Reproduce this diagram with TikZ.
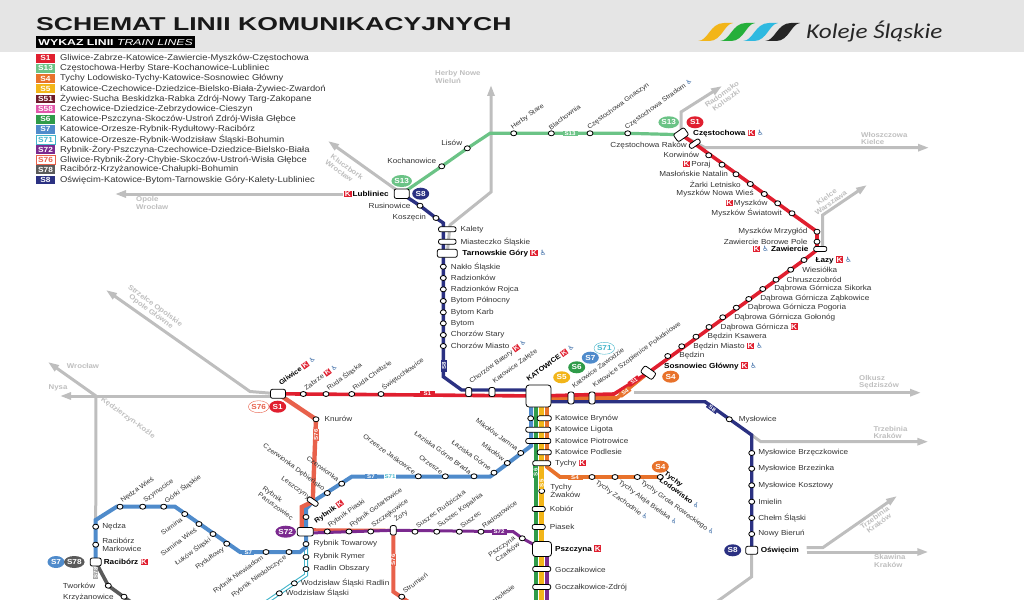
\documentclass[tikz,border=0pt]{standalone}
\usepackage{fontspec}
\usepackage{xcolor}
\setmainfont[FakeStretch=1.12]{Liberation Sans}
\newfontfamily\titlefont[FakeStretch=1.43]{Liberation Sans}
\newfontfamily\logofont[FakeStretch=1.2]{Carlito}
\newfontfamily\symfont{DejaVu Sans}
\usetikzlibrary{arrows.meta, positioning, shapes.geometric}

\definecolor{cS1}{HTML}{E01F2F}
\definecolor{cS13}{HTML}{6BC386}
\definecolor{cS4}{HTML}{E8722B}
\definecolor{cS5}{HTML}{F2B519}
\definecolor{cS51}{HTML}{6E1A2B}
\definecolor{cS58}{HTML}{E257AC}
\definecolor{cS6}{HTML}{2F9B49}
\definecolor{cS7}{HTML}{4F8BCB}
\definecolor{cS71}{HTML}{45B6CB}
\definecolor{cS72}{HTML}{7B2A8F}
\definecolor{cS76}{HTML}{E8614B}
\definecolor{cS78}{HTML}{5A5A5A}
\definecolor{cS8}{HTML}{2B3182}
\definecolor{feedgray}{HTML}{BEBEBE}
\definecolor{wcblue}{HTML}{2F62A0}

\newcommand{\kk}{{\setlength{\fboxsep}{0.6pt}\colorbox{cS1}{\textcolor{white}{\bfseries K}}}}
\newcommand{\wc}{{\symfont\textcolor{wcblue}{\char"267F}}}
\newcommand{\leaf}{(0,41) .. controls (10,41) and (12,23) .. (26,23) -- (35,23) .. controls (26,24) and (24,41) .. (11,41) -- cycle}

\pgfdeclarelayer{bg}
\pgfsetlayers{bg,main}

\tikzstyle{stop}     = [ellipse, draw=black, fill=white, line width=.8pt, minimum width=6pt, minimum height=5pt, inner sep=0pt]
\tikzstyle{hub}      = [rectangle, rounded corners=2pt, draw=black, fill=white, line width=.8pt, inner sep=0pt]
\tikzstyle{lbl}      = [inner sep=0pt, text=black!80, font=\fontsize{7.3}{8.6}\selectfont, align=left]
\tikzstyle{main}     = [lbl, text=black, font=\fontsize{7.3}{8.6}\selectfont\bfseries]
\tikzstyle{rotlbl}   = [lbl, font=\fontsize{6.5}{7.8}\selectfont]
\tikzstyle{lup}      = [rotlbl, anchor=west, xshift=1.5pt, yshift=5pt, rotate=36]
\tikzstyle{lupb}     = [rotlbl, text=black, font=\fontsize{6.7}{7.8}\selectfont\bfseries, anchor=west, xshift=1.5pt, yshift=5pt, rotate=36]
\tikzstyle{lupe}     = [rotlbl, anchor=east, xshift=-3pt, yshift=-5pt, rotate=36]
\tikzstyle{ldn}      = [rotlbl, anchor=east, xshift=-3.3pt, yshift=3.6pt, rotate=-36]
\tikzstyle{lds}      = [rotlbl, anchor=west, xshift=4pt, yshift=-4.7pt, rotate=-36]
\tikzstyle{far}      = [lbl, text=feedgray, font=\fontsize{7}{7.2}\selectfont\bfseries]
\tikzstyle{badge}    = [ellipse, minimum width=17pt, minimum height=12pt, inner sep=0pt, text=white, font=\fontsize{7.3}{8}\selectfont\bfseries]
\tikzstyle{tag}      = [rectangle, minimum width=12pt, minimum height=5.5pt, inner sep=0pt, text=white, font=\fontsize{5.5}{5.5}\selectfont\bfseries]
\tikzstyle{swatch}   = [rectangle, minimum width=19.5pt, minimum height=8.6pt, inner sep=0pt, text=white, font=\fontsize{7.4}{7.4}\selectfont\bfseries]
\tikzstyle{lglbl}    = [inner sep=0pt, text=black!80, font=\fontsize{8.4}{9}\selectfont]
\tikzstyle{feeder}   = [line width=3pt, draw=feedgray]
\tikzstyle{feedarrow}= [feeder, -{Triangle[length=11pt,width=7pt]}]

\begin{document}
\begin{tikzpicture}[x=1pt,y=-1pt]
    \path[use as bounding box, clip] (0,0) rectangle (1024,599);

    % header
    \fill[black!10] (0,0) rectangle (1024,52);
    \node (title) [inner sep=0pt, anchor=west, text=black!90, font=\titlefont\fontsize{18.6}{20}\selectfont\bfseries] at (36,24) {SCHEMAT LINII KOMUNIKACYJNYCH};
    \node (wykaz) [fill=black, anchor=west, text=white, inner sep=0pt, minimum width=159pt, minimum height=12pt, font=\titlefont\fontsize{8.6}{9}\selectfont] at (36,42.5) {\textbf{WYKAZ LINII} \textit{TRAIN LINES}};
    \fill[cS5, shift={(698,0)}] \leaf;
    \fill[cS6!80!green, shift={(720,0)}] \leaf;
    \fill[cS7!60!cyan, shift={(743,0)}] \leaf;
    \fill[black!85, shift={(765,0)}] \leaf;
    \node (logo) [inner sep=0pt, anchor=west, text=black!85, font=\logofont\itshape\fontsize{21}{22}\selectfont] at (806,32) {Koleje Śląskie};

    % legend
    \node (sw1)  [swatch, fill=cS1]  at (45.5,58.3) {S1};
    \node (lg1)  [lglbl, right=4.5pt of sw1]  {Gliwice-Zabrze-Katowice-Zawiercie-Myszków-Częstochowa};
    \node (sw2)  [swatch, fill=cS13] at (45.5,68.4) {S13};
    \node (lg2)  [lglbl, right=4.5pt of sw2]  {Częstochowa-Herby Stare-Kochanowice-Lubliniec};
    \node (sw3)  [swatch, fill=cS4]  at (45.5,78.6) {S4};
    \node (lg3)  [lglbl, right=4.5pt of sw3]  {Tychy Lodowisko-Tychy-Katowice-Sosnowiec Główny};
    \node (sw4)  [swatch, fill=cS5]  at (45.5,88.7) {S5};
    \node (lg4)  [lglbl, right=4.5pt of sw4]  {Katowice-Czechowice-Dziedzice-Bielsko-Biała-Żywiec-Zwardoń};
    \node (sw5)  [swatch, fill=cS51] at (45.5,98.9) {S51};
    \node (lg5)  [lglbl, right=4.5pt of sw5]  {Żywiec-Sucha Beskidzka-Rabka Zdrój-Nowy Targ-Zakopane};
    \node (sw6)  [swatch, fill=cS58] at (45.5,109) {S58};
    \node (lg6)  [lglbl, right=4.5pt of sw6]  {Czechowice-Dziedzice-Zebrzydowice-Cieszyn};
    \node (sw7)  [swatch, fill=cS6]  at (45.5,119.2) {S6};
    \node (lg7)  [lglbl, right=4.5pt of sw7]  {Katowice-Pszczyna-Skoczów-Ustroń Zdrój-Wisła Głębce};
    \node (sw8)  [swatch, fill=cS7]  at (45.5,129.3) {S7};
    \node (lg8)  [lglbl, right=4.5pt of sw8]  {Katowice-Orzesze-Rybnik-Rydułtowy-Racibórz};
    \node (sw9)  [swatch, fill=white, draw=cS71, text=cS71] at (45.5,139.6) {S71};
    \node (lg9)  [lglbl, right=4.5pt of sw9]  {Katowice-Orzesze-Rybnik-Wodzisław Śląski-Bohumin};
    \node (sw10) [swatch, fill=cS72] at (45.5,149.7) {S72};
    \node (lg10) [lglbl, right=4.5pt of sw10] {Rybnik-Żory-Pszczyna-Czechowice-Dziedzice-Bielsko-Biała};
    \node (sw11) [swatch, fill=white, draw=cS76, text=cS76] at (45.5,159.5) {S76};
    \node (lg11) [lglbl, right=4.5pt of sw11] {Gliwice-Rybnik-Żory-Chybie-Skoczów-Ustroń-Wisła Głębce};
    \node (sw12) [swatch, fill=cS78] at (45.5,169.7) {S78};
    \node (lg12) [lglbl, right=4.5pt of sw12] {Racibórz-Krzyżanowice-Chałupki-Bohumin};
    \node (sw13) [swatch, fill=cS8]  at (45.5,180) {S8};
    \node (lg13) [lglbl, right=4.5pt of sw13] {Oświęcim-Katowice-Bytom-Tarnowskie Góry-Kalety-Lubliniec};

    % big stations
    \node (gliw)  [hub, minimum width=15pt, minimum height=9pt]  at (278,393.8) {};
    \node (kato)  [hub, rounded corners=3pt, minimum width=25pt, minimum height=22pt] at (538.5,396) {};
    \node (czest) [hub, minimum width=13pt, minimum height=9pt, rotate=35] at (681,134.7) {};
    \node (lubl)  [hub, minimum width=15pt, minimum height=9.5pt] at (401.7,193.7) {};
    \node (tarn)  [hub, minimum width=20pt, minimum height=8pt] at (447.3,253.3) {};
    \node (zaw)   [hub, minimum width=13pt, minimum height=5pt] at (820.3,249) {};
    \node (sosn)  [hub, minimum width=14pt, minimum height=8pt, rotate=-35] at (648.3,372.7) {};
    \node (ryb)   [hub, minimum width=16pt, minimum height=8.5pt] at (305.3,531.7) {};
    \node (racib) [hub, minimum width=11pt, minimum height=8pt] at (95.7,562) {};
    \node (pszcz) [hub, rounded corners=3pt, minimum width=19pt, minimum height=15pt] at (542,549) {};
    \node (oswie) [hub, minimum width=12pt, minimum height=8pt] at (751.7,550.3) {};

    % S1
    \node (zabrz) [stop] at (303.3,394) {};
    \node (ruda)  [stop] at (326,394) {};
    \node (chebz) [stop] at (351.7,394) {};
    \node (swiet) [stop] at (381,394) {};
    \node (bator) [hub, minimum width=6pt, minimum height=9pt] at (468.7,392) {};
    \node (zalez) [hub, minimum width=6pt, minimum height=9pt] at (492,392) {};
    \node (zawod) [hub, minimum width=6pt, minimum height=12pt] at (571,398) {};
    \node (szopi) [hub, minimum width=6pt, minimum height=12pt] at (592,398) {};
    \node (bedz)  [stop] at (667.7,356) {};
    \node (bedzm) [stop] at (681.7,346.3) {};
    \node (bedzk) [stop] at (696,336.7) {};
    \node (dg)    [stop] at (709,327) {};
    \node (dggol) [stop] at (722.7,317.3) {};
    \node (dgpog) [stop] at (736.3,307.7) {};
    \node (dgzab) [stop] at (748.7,299) {};
    \node (dgsik) [stop] at (762.7,289) {};
    \node (chrus) [stop] at (776,279.7) {};
    \node (wiesi) [stop] at (790.7,269.7) {};
    \node (lazy)  [stop] at (804,260) {};
    \node (borow) [stop] at (817,241.7) {};
    \node (mrzyg) [stop] at (817,231.7) {};
    \node (swiat) [stop] at (792,213.3) {};
    \node (myszk) [stop] at (777.7,203.3) {};
    \node (nowaw) [stop] at (764.3,194) {};
    \node (zarki) [stop] at (750.3,184) {};
    \node (masl)  [stop] at (736,174.3) {};
    \node (poraj) [stop] at (722,164.7) {};
    \node (korw)  [stop] at (708.7,155.3) {};
    \node (rakow) [hub, minimum width=12pt, minimum height=5pt, rotate=35] at (694.7,143.7) {};

    % S13
    \node (strad) [stop] at (627.7,133.3) {};
    \node (gnasz) [stop] at (590,133.3) {};
    \node (blach) [stop] at (551.3,133.3) {};
    \node (herby) [stop] at (513.7,133.3) {};
    \node (lisow) [stop] at (467.3,148.3) {};
    \node (kocha) [stop] at (441.7,166.3) {};

    % S8
    \node (rusin) [stop] at (420,205.7) {};
    \node (kosze) [stop] at (436,218) {};
    \node (kalet) [hub, minimum width=17.5pt, minimum height=5pt] at (447.3,229.3) {};
    \node (miast) [hub, minimum width=17.5pt, minimum height=5pt] at (447.3,241.7) {};
    \node (naklo) [stop] at (443.3,266.7) {};
    \node (radzi) [stop] at (443.3,278) {};
    \node (rojca) [stop] at (443.3,289.3) {};
    \node (bytop) [stop] at (443.3,301) {};
    \node (karb)  [stop] at (443.3,312.3) {};
    \node (bytom) [stop] at (443.3,323.3) {};
    \node (stary) [stop] at (443.3,335) {};
    \node (miasto)[stop] at (443.3,346) {};
    \node (myslo) [stop] at (729.3,419.3) {};
    \node (brzec) [stop] at (751.7,453) {};
    \node (brzez) [stop] at (751.7,468.7) {};
    \node (koszt) [stop] at (751.7,485.3) {};
    \node (imiel) [stop] at (751.7,501.7) {};
    \node (chelm) [stop] at (751.7,518) {};
    \node (bieru) [stop] at (751.7,534) {};

    % S7, S71, S78
    \node (nedza) [stop] at (95.7,526.7) {};
    \node (marko) [stop] at (95.7,544.7) {};
    \node (nedzw) [stop] at (120,506.7) {};
    \node (szymo) [stop] at (142.7,506.7) {};
    \node (gorki) [stop] at (163.7,506.7) {};
    \node (sumin) [stop] at (184.7,514) {};
    \node (sumiw) [stop] at (199,524) {};
    \node (lukow) [stop] at (213,534) {};
    \node (rydul) [stop] at (226.7,543.7) {};
    \node (niewi) [stop] at (266,552) {};
    \node (niedo) [stop] at (289,552) {};
    \node (towar) [stop] at (306,544) {};
    \node (rymer) [stop] at (306,557) {};
    \node (radli) [stop] at (306,569) {};
    \node (wodzr) [stop] at (294.3,583.3) {};
    \node (wodzi) [stop] at (279.3,593.3) {};
    \node (parus) [stop] at (306,517) {};
    \node (leszc) [hub, minimum width=12pt, minimum height=5pt, rotate=-35] at (312.7,501.7) {};
    \node (czede) [stop] at (327.3,493) {};
    \node (czerw) [stop] at (341.7,483.7) {};
    \node (orzja) [stop] at (418.3,476.3) {};
    \node (orzes) [stop] at (445.3,476.3) {};
    \node (lazbr) [stop] at (474,476.3) {};
    \node (lazgo) [stop] at (494,472.7) {};
    \node (mikol) [stop] at (507.3,463) {};
    \node (mikja) [stop] at (520.7,453) {};
    \node (tworw) [stop] at (108.3,585.7) {};
    \node (krzyz) [stop] at (124,596.7) {};

    % S76, S72
    \node (knuro) [stop] at (316,419.3) {};
    \node (piask) [stop] at (327.3,531.5) {};
    \node (gotar) [stop] at (349,531.5) {};
    \node (szcze) [stop] at (370.7,531.5) {};
    \node (zory)  [hub, minimum width=6pt, minimum height=9.5pt] at (393.3,530.3) {};
    \node (rudzi) [stop] at (415,531.7) {};
    \node (kopal) [stop] at (436.7,531.7) {};
    \node (susze) [stop] at (459.3,531.7) {};
    \node (rados) [stop] at (481,531.7) {};
    \node (czark) [stop] at (522.3,538.3) {};
    \node (strum) [stop] at (401.7,596.7) {};

    % S4, S5, S6
    \node (bryno) [stop] at (530.7,418.3) {};
    \node (brynr) [hub, minimum width=14pt, minimum height=5pt] at (544.3,418.3) {};
    \node (ligot) [hub, minimum width=25pt, minimum height=5pt] at (538.3,429.7) {};
    \node (piotr) [hub, minimum width=25pt, minimum height=5pt] at (538.3,441) {};
    \node (podle) [hub, minimum width=14pt, minimum height=5pt] at (544.3,452.3) {};
    \node (tychy) [hub, minimum width=18pt, minimum height=5pt] at (541.7,463.3) {};
    \node (tzach) [stop] at (592,477) {};
    \node (talej) [stop] at (615,477) {};
    \node (tgrot) [stop] at (637.3,477) {};
    \node (tlodo) [stop] at (660.3,477) {};
    \node (zwako) [stop] at (541.7,491) {};
    \node (kobio) [hub, minimum width=13pt, minimum height=5pt] at (538.7,509) {};
    \node (piase) [hub, minimum width=13pt, minimum height=5pt] at (538.7,527) {};
    \node (goczk) [hub, minimum width=18pt, minimum height=5pt] at (541.7,569) {};
    \node (goczz) [hub, minimum width=18pt, minimum height=5pt] at (541.7,587) {};

    % lines go under the stations
    \begin{pgfonlayer}{bg}
        \coordinate (herN) at (491,85);
        \coordinate (herB) at (491,192);
        \coordinate (herK) at (450,225);
        \draw [feedarrow] (tarn.center) -- (herK) -- (herB) -- (herN);
        \coordinate (opoT) at (115,194);
        \coordinate (opoS) at (343,194);
        \draw [feedarrow] (opoS) -- (opoT);
        \coordinate (klucT) at (328,141);
        \draw [feedarrow] (lubl.center) -- (klucT);
        \coordinate (strE) at (250,391.5);
        \coordinate (strT) at (106,290);
        \draw [feedarrow] (gliw.center) -- (strE) -- (strT);
        \coordinate (wesJ) at (96,396);
        \coordinate (wroT) at (48,362);
        \coordinate (nysT) at (60,396);
        \coordinate (gliS) at (280,396);
        \draw [feedarrow] (gliS) -- (wesJ) -- (nysT);
        \draw [feedarrow] (wesJ) -- (wroT);
        \draw [feeder] (wesJ) -- (nedza.center);
        \coordinate (radB) at (681,112);
        \coordinate (radT) at (722,86);
        \draw [feedarrow] (czest.center) -- (radB) -- (radT);
        \coordinate (wloB) at (705,147.7);
        \coordinate (wloT) at (929,147.7);
        \draw [feedarrow] (czest.center) -- (wloB) -- (wloT);
        \coordinate (kieB) at (822.7,215);
        \coordinate (kieT) at (867,185);
        \coordinate (kieS) at (822.7,249);
        \draw [feedarrow] (kieS) -- (kieB) -- (kieT);
        \coordinate (olkS) at (634,392.7);
        \coordinate (olkT) at (921,392.7);
        \draw [feedarrow] (olkS) -- (olkT);
        \coordinate (trzS) at (751.7,435);
        \coordinate (trzB) at (760.7,441.7);
        \coordinate (trzT) at (928.3,441.7);
        \draw [feedarrow] (trzS) -- (trzB) -- (trzT);
        \coordinate (oskS) at (806.7,547.7);
        \coordinate (oskB) at (822.7,547.7);
        \coordinate (oskT) at (897,496);
        \draw [feedarrow] (oskS) -- (oskB) -- (oskT);
        \coordinate (skaS) at (806.7,552);
        \coordinate (skaT) at (928.3,552);
        \draw [feedarrow] (skaS) -- (skaT);
        \coordinate (oswB) at (751.7,576.7);
        \coordinate (oswE) at (715,603);
        \draw [feeder] (oswie.center) -- (oswB) -- (oswE);

        % S13
        \coordinate (s13B) at (490,133.3);
        \draw [line width=3.2pt, cS13] (czest.center) -- (strad.center) -- (gnasz.center) -- (blach.center) -- (herby.center) -- (s13B) -- (lisow.center) -- (kocha.center) -- (lubl.center);

        % S8
        \coordinate (s8a) at (443.3,223);
        \coordinate (s8b) at (443.3,376.7);
        \coordinate (s8c) at (461.7,390);
        \coordinate (s8d) at (530,390);
        \coordinate (s8e) at (545,401.7);
        \coordinate (s8f) at (705,401.7);
        \coordinate (s8g) at (751.7,435);
        \draw [line width=3.4pt, cS8] (lubl.center) -- (rusin.center) -- (kosze.center) -- (s8a) -- (s8b) -- (s8c) -- (s8d);
        \draw [line width=3.4pt, cS8] (s8e) -- (s8f) -- (s8g) -- (oswie.center);

        % S4
        \coordinate (s4a) at (545,398);
        \coordinate (s4b) at (617,398);
        \coordinate (s4c) at (547,407);
        \coordinate (s4d) at (547,467);
        \coordinate (s4e) at (560,477);
        \draw [line width=3.6pt, cS4] (s4a) -- (s4b) -- (sosn.center);
        \draw [line width=3.8pt, cS4] (s4c) -- (s4d) -- (s4e) -- (tlodo.center);

        % S1
        \coordinate (s1a) at (614,394);
        \coordinate (s1b) at (817,250);
        \draw [line width=3.6pt, cS1] (gliw.center) -- (kato.center) -- (s1a) -- (sosn.center) -- (lazy.center) -- (s1b) -- (mrzyg.center) -- (rakow.center) -- (czest.center);

        % S5, S6
        \coordinate (s5a) at (541.5,407);
        \coordinate (s5b) at (541.5,603);
        \coordinate (s6a) at (535.8,407);
        \coordinate (s6b) at (535.8,603);
        \draw [line width=4.6pt, cS5] (s5a) -- (s5b);
        \draw [line width=4.6pt, cS6] (s6a) -- (s6b);

        % S71
        \coordinate (s71a) at (306,575);
        \coordinate (s71b) at (265,603);
        \draw [line width=4pt, cS71] (towar.center) -- (s71a) -- (s71b);
        \draw [line width=1.8pt, white] (towar.center) -- (s71a) -- (s71b);

        % S7
        \coordinate (s7a) at (95.7,520);
        \coordinate (s7b) at (116.7,506.7);
        \coordinate (s7c) at (175,506.7);
        \coordinate (s7d) at (240,552);
        \coordinate (s7e) at (300,552);
        \coordinate (s7f) at (306,547);
        \coordinate (s7g) at (306,509);
        \coordinate (s7h) at (351.7,476.7);
        \coordinate (s7i) at (490,476.7);
        \coordinate (s7j) at (531,446);
        \coordinate (s7k) at (531,407);
        \draw [line width=4pt, cS7] (racib.center) -- (s7a) -- (s7b) -- (s7c) -- (s7d) -- (s7e) -- (s7f) -- (s7g) -- (leszc.center) -- (s7h) -- (s7i) -- (s7j) -- (s7k);
        \draw [line width=4pt, cS7] (s7f) -- (towar.center);

        % S78
        \coordinate (s78b) at (135,605);
        \draw [line width=3.6pt, cS78] (racib.center) -- (tworw.center) -- (s78b);

        % S76
        \coordinate (s76a) at (301.7,507);
        \coordinate (s76b) at (301.7,531);
        \coordinate (s76c) at (310,529.7);
        \coordinate (s76d) at (393.3,591.7);
        \coordinate (s76e) at (410,603);
        \draw [line width=4.4pt, cS76] (gliw.center) -- (knuro.center) -- (leszc.center) -- (s76a) -- (s76b);
        \draw [line width=3pt, cS76] (s76c) -- (zory.center);
        \draw [line width=4pt, cS76] (zory.center) -- (s76d) -- (s76e);

        % S72
        \coordinate (s72a) at (310,533);
        \coordinate (s72b) at (513.3,531.7);
        \coordinate (s72c) at (547.3,549);
        \coordinate (s72d) at (547.3,603);
        \draw [line width=3pt, cS72] (s72a) -- (zory.center) -- (s72b) -- (czark.center) -- (pszcz.center);
        \draw [line width=4.2pt, cS72] (s72c) -- (s72d);
    \end{pgfonlayer}

    % tags on the lines
    \node (tS13)  [tag, fill=cS13, minimum width=15pt] at (570,133.7) {S13};
    \node (tS1)   [tag, fill=cS1, minimum width=15pt]  at (427.3,394) {S1};
    \node (tS1b)  [tag, fill=cS1, rotate=36] at (634,381) {S1};
    \node (tS4b)  [tag, fill=cS4, rotate=36] at (625,392) {S4};
    \node (tS4)   [tag, fill=cS4, minimum width=15pt]  at (575,477.3) {S4};
    \node (tS8)   [tag, fill=cS8, rotate=90] at (444,365.7) {S8};
    \node (tS8b)  [tag, fill=cS8, rotate=-36] at (712.3,408.3) {S8};
    \node (tS6)   [tag, fill=cS6, rotate=90] at (535.7,472.3) {S6};
    \node (tS5)   [tag, fill=cS5, rotate=90] at (541.7,483.3) {S5};
    \node (tS7)   [tag, fill=cS7]  at (371,476.7) {S7};
    \node (tS71)  [tag, fill=white, text=cS71] at (390,476.7) {S71};
    \node (tS7b)  [tag, fill=cS7]  at (248.3,552.7) {S7};
    \node (tS76)  [tag, fill=cS76, rotate=90] at (316,435) {S76};
    \node (tS76b) [tag, fill=cS76, rotate=90] at (393.3,560) {S76};
    \node (tS72)  [tag, fill=cS72, minimum width=15pt] at (499,532) {S72};
    \node (tS78)  [tag, fill=black!35, rotate=90] at (95.7,573) {S78};

    % badges
    \node (bS13a) [badge, fill=cS13] at (668.7,122.3) {S13};
    \node (bS1a)  [badge, fill=cS1]  at (695,122.3) {S1};
    \node (bS13b) [badge, fill=cS13] at (401.7,181) {S13};
    \node (bS8a)  [badge, fill=cS8]  at (420.7,193.7) {S8};
    \node (bS76)  [badge, fill=white, draw=cS76, text=cS76] at (258.7,406.7) {S76};
    \node (bS1b)  [badge, fill=cS1]  at (277.7,406.7) {S1};
    \node (bS5)   [badge, fill=cS5]  at (561.7,377.3) {S5};
    \node (bS6)   [badge, fill=cS6]  at (576.7,367.3) {S6};
    \node (bS7a)  [badge, fill=cS7]  at (590.3,357.7) {S7};
    \node (bS71)  [badge, fill=white, draw=cS71, text=cS71] at (604.3,348.3) {S71};
    \node (bS4a)  [badge, fill=cS4]  at (670.7,376.7) {S4};
    \node (bS4b)  [badge, fill=cS4]  at (660.3,466.7) {S4};
    \node (bS8b)  [badge, fill=cS8]  at (732.7,550.3) {S8};
    \node (bS72)  [badge, fill=cS72] at (285.7,531.7) {S72};
    \node (bS7b)  [badge, fill=cS7]  at (56,562) {S7};
    \node (bS78)  [badge, fill=cS78] at (74.3,562) {S78};

    % station labels
    \node (Lgliw)  [lupb] at (gliw.north) {Gliwice \kk\ \wc};
    \node (Lzabrz) [lup] at (zabrz) {Zabrze \kk\ \wc};
    \node (Lruda)  [lup] at (ruda) {Ruda Śląska};
    \node (Lchebz) [lup] at (chebz) {Ruda Chebzie};
    \node (Lswiet) [lup] at (swiet) {Świętochłowice};
    \node (Lbator) [lup] at (bator.north) {Chorzów Batory \kk\ \wc};
    \node (Lzalez) [lup] at (zalez.north) {Katowice Załęże};
    \node (Lkato)  [lupb] at (kato.north west) {KATOWICE \kk\ \wc};
    \node (Lzawod) [lup] at (zawod.north) {Katowice Zawodzie};
    \node (Lszopi) [lup] at (szopi.north) {Katowice Szopienice Południowe};
    \node (Lsosn)  [main, anchor=west] at (664,366) {Sosnowiec Główny \kk\ \wc};
    \node (Lbedz)  [lbl, right=8pt of bedz]  {Będzin};
    \node (Lbedzm) [lbl, right=8pt of bedzm] {Będzin Miasto \kk\ \wc};
    \node (Lbedzk) [lbl, right=8pt of bedzk] {Będzin Ksawera};
    \node (Ldg)    [lbl, right=8pt of dg]    {Dąbrowa Górnicza \kk};
    \node (Ldggol) [lbl, right=8pt of dggol] {Dąbrowa Górnicza Gołonóg};
    \node (Ldgpog) [lbl, right=8pt of dgpog] {Dąbrowa Górnicza Pogoria};
    \node (Ldgzab) [lbl, right=8pt of dgzab] {Dąbrowa Górnicza Ząbkowice};
    \node (Ldgsik) [lbl, right=8pt of dgsik] {Dąbrowa Górnicza Sikorka};
    \node (Lchrus) [lbl, right=7pt of chrus] {Chruszczobród};
    \node (Lwiesi) [lbl, right=8pt of wiesi] {Wiesiółka};
    \node (Llazy)  [main, right=8pt of lazy] {Łazy \kk\ \wc};
    \node (Lzaw)   [main, anchor=east] at (808.7,249) {\kk\ \wc\ Zawiercie};
    \node (Lborow) [lbl, left=6pt of borow]  {Zawiercie Borowe Pole};
    \node (Lmrzyg) [lbl, left=6pt of mrzyg]  {Myszków Mrzygłód};
    \node (Lswiat) [lbl, left=6.5pt of swiat] {Myszków Światowit};
    \node (Lmyszk) [lbl, left=6.5pt of myszk] {\kk\,Myszków};
    \node (Lnowaw) [lbl, left=7pt of nowaw]  {Myszków Nowa Wieś};
    \node (Lzarki) [lbl, left=6pt of zarki]  {Żarki Letnisko};
    \node (Lmasl)  [lbl, left=4.5pt of masl] {Masłońskie Natalin};
    \node (Lporaj) [lbl, left=8pt of poraj]  {\kk\,Poraj};
    \node (Lkorw)  [lbl, left=6pt of korw]   {Korwinów};
    \node (Lrakow) [lbl, anchor=east] at (687,145.7) {Częstochowa Raków};
    \node (Lczest) [main, anchor=west] at (693,133.5) {Częstochowa \kk\ \wc};

    \node (Lstrad) [lup] at (strad.west) {Częstochowa Stradom \wc};
    \node (Lgnasz) [lup] at (gnasz.west) {Częstochowa Gnaszyn};
    \node (Lblach) [lup] at (blach.west) {Blachownia};
    \node (Lherby) [lup] at (herby.west) {Herby Stare};
    \node (Llisow) [lbl, above left=.5pt and 2.5pt of lisow] {Lisów};
    \node (Lkocha) [lbl, above left=.5pt and 3pt of kocha] {Kochanowice};
    \node (Llubl)  [main, left=5pt of lubl]  {\kk\,Lubliniec};

    \node (Lrusin) [lbl, left=6pt of rusin]  {Rusinowice};
    \node (Lkosze) [lbl, left=6.5pt of kosze] {Koszęcin};
    \node (Lkalet) [lbl, right=4pt of kalet] {Kalety};
    \node (Lmiast) [lbl, right=4pt of miast] {Miasteczko Śląskie};
    \node (Ltarn)  [main, right=4.5pt of tarn] {Tarnowskie Góry \kk\ \wc};
    \node (Lnaklo) [lbl, right=4pt of naklo] {Nakło Śląskie};
    \node (Lradzi) [lbl, right=4pt of radzi] {Radzionków};
    \node (Lrojca) [lbl, right=4pt of rojca] {Radzionków Rojca};
    \node (Lbytop) [lbl, right=4pt of bytop] {Bytom Północny};
    \node (Lkarb)  [lbl, right=4pt of karb]  {Bytom Karb};
    \node (Lbytom) [lbl, right=4pt of bytom] {Bytom};
    \node (Lstary) [lbl, right=4pt of stary] {Chorzów Stary};
    \node (Lmiasto)[lbl, right=4pt of miasto] {Chorzów Miasto};

    \node (Lmyslo) [lbl, right=6pt of myslo] {Mysłowice};
    \node (Lbrzec) [lbl, right=3pt of brzec] {Mysłowice Brzęczkowice};
    \node (Lbrzez) [lbl, right=3pt of brzez] {Mysłowice Brzezinka};
    \node (Lkoszt) [lbl, right=3pt of koszt] {Mysłowice Kosztowy};
    \node (Limiel) [lbl, right=3pt of imiel] {Imielin};
    \node (Lchelm) [lbl, right=3pt of chelm] {Chełm Śląski};
    \node (Lbieru) [lbl, right=3pt of bieru] {Nowy Bieruń};
    \node (Loswie) [main, right=2.5pt of oswie] {Oświęcim};

    \node (Lnedza) [lbl, right=3pt of nedza] {Nędza};
    \node (Lmarko) [lbl, right=3pt of marko] {Racibórz\\Markowice};
    \node (Lracib) [main, right=2pt of racib] {Racibórz \kk};
    \node (Lnedzw) [lup] at (nedzw) {Nędza Wieś};
    \node (Lszymo) [lup] at (szymo) {Szymocice};
    \node (Lgorki) [lup] at (gorki) {Górki Śląskie};
    \node (Lsumin) [lupe] at (sumin) {Sumina};
    \node (Lsumiw) [lupe] at (sumiw) {Sumina Wieś};
    \node (Llukow) [lupe] at (lukow) {Łuków Śląski};
    \node (Lrydul) [lupe] at (rydul) {Rydułtowy};
    \node (Lniewi) [lupe] at (niewi) {Rybnik Niewiadom};
    \node (Lniedo) [lupe] at (niedo) {Rybnik Niedobczyce};
    \node (Ltowar) [lbl, right=4pt of towar] {Rybnik Towarowy};
    \node (Lrymer) [lbl, right=4pt of rymer] {Rybnik Rymer};
    \node (Lradli) [lbl, right=4pt of radli] {Radlin Obszary};
    \node (Lwodzr) [lbl, right=3pt of wodzr] {Wodzisław Śląski Radlin};
    \node (Lwodzi) [lbl, right=3pt of wodzi] {Wodzisław Śląski};
    \node (Ltworw) [lbl, left=9.5pt of tworw] {Tworków};
    \node (Lkrzyz) [lbl, anchor=west] at (63,598) {Krzyżanowice};

    \node (Lparus) [rotlbl, rotate=-36] at (278,503) {Rybnik\\Paruszowiec};
    \node (Lleszc) [ldn] at (leszc) {Leszczyny};
    \node (Lczede) [ldn] at (czede) {Czerwionka Dębieńsko};
    \node (Lczerw) [ldn] at (czerw) {Czerwionka};
    \node (Lorzja) [ldn] at (orzja) {Orzesze Jaśkowice};
    \node (Lorzes) [ldn] at (orzes) {Orzesze};
    \node (Llazbr) [ldn] at (lazbr) {Łaziska Górne Brada};
    \node (Llazgo) [ldn] at (lazgo) {Łaziska Górne};
    \node (Lmikol) [ldn] at (mikol) {Mikołów};
    \node (Lmikja) [ldn] at (mikja) {Mikołów Jamna};

    \node (Lknuro) [lbl, right=5pt of knuro] {Knurów};
    \node (Lryb)   [lupb] at (ryb.north east) {Rybnik \kk};
    \node (Lpiask) [lup] at (piask) {Rybnik Piaski};
    \node (Lgotar) [lup] at (gotar) {Rybnik Gotartowice};
    \node (Lszcze) [lup] at (szcze) {Szczejkowice};
    \node (Lzory)  [lup] at (zory.north) {Żory};
    \node (Lrudzi) [lup] at (rudzi) {Suszec Rudziczka};
    \node (Lkopal) [lup] at (kopal) {Suszec Kopalnia};
    \node (Lsusze) [lup] at (susze) {Suszec};
    \node (Lrados) [lup] at (rados) {Radostowice};
    \node (Lczark) [rotlbl, rotate=36, align=right] at (504,550) {Pszczyna\\Czarków};
    \node (Lstrum) [lup] at (strum) {Strumień};
    \coordinate (cutP) at (514,586);
    \node (Lcut)   [rotlbl, anchor=east, rotate=36] at (cutP) {mnolesie};

    \node (Lbryno) [lbl, anchor=west] at (555,418.3) {Katowice Brynów};
    \node (Lligot) [lbl, anchor=west] at (555,429.7) {Katowice Ligota};
    \node (Lpiotr) [lbl, anchor=west] at (555,441) {Katowice Piotrowice};
    \node (Lpodle) [lbl, anchor=west] at (555,452.3) {Katowice Podlesie};
    \node (Ltychy) [lbl, anchor=west] at (555,463.3) {Tychy \kk};
    \node (Lzwako) [lbl, right=5pt of zwako] {Tychy\\Żwaków};
    \node (Lkobio) [lbl, right=4pt of kobio] {Kobiór};
    \node (Lpiase) [lbl, right=4pt of piase] {Piasek};
    \node (Lpszcz) [main, anchor=west] at (555,549) {Pszczyna \kk};
    \node (Lgoczk) [lbl, anchor=west] at (555,569.5) {Goczałkowice};
    \node (Lgoczz) [lbl, anchor=west] at (555,587.5) {Goczałkowice-Zdrój};
    \node (Ltzach) [lds] at (tzach) {Tychy Zachodnie \wc};
    \node (Ltalej) [lds] at (talej) {Tychy Aleja Bielska \wc};
    \node (Ltgrot) [lds] at (tgrot) {Tychy Grota Roweckiego \wc};
    \node (Ltlodo) [rotlbl, text=black, font=\fontsize{6.7}{7.8}\selectfont\bfseries, rotate=-36] at (682,490) {Tychy\\Lodowisko \wc};

    % destinations beyond the network
    \node (Fher)  [far, anchor=west] at (435,77) {Herby Nowe\\Wieluń};
    \node (Fkluc) [far, rotate=-36] at (347,167) {Kluczbork};
    \node (Fwro)  [far, rotate=-36] at (339,171) {Wrocław};
    \node (Fopo)  [far, anchor=west] at (136,203) {Opole\\Wrocław};
    \node (Fstr)  [far, rotate=-36, align=center] at (153,309) {Strzelce Opolskie\\Opole Główne};
    \node (Fwro2) [far] at (83,366) {Wrocław};
    \node (Fnys)  [far] at (58,388) {Nysa};
    \node (Fked)  [far, rotate=-36] at (128,418) {Kędzierzyn-Koźle};
    \node (Frad)  [far, rotate=36, align=center] at (724,97) {Radomsko\\Koluszki};
    \node (Fwlo)  [far, anchor=west] at (861,138.3) {Włoszczowa\\Kielce};
    \node (Fkie)  [far, rotate=36, align=center] at (828.7,200) {Kielce\\Warszawa};
    \node (Folk)  [far, anchor=west] at (859,382.5) {Olkusz\\Sędziszów};
    \node (Ftrz)  [far, anchor=west] at (873.3,432.8) {Trzebinia\\Kraków};
    \node (Ftrb)  [far, rotate=36, align=center] at (876.7,520.7) {Trzebinia\\Kraków};
    \node (Fska)  [far, anchor=west] at (874,561) {Skawina\\Kraków};
\end{tikzpicture}
\end{document}
